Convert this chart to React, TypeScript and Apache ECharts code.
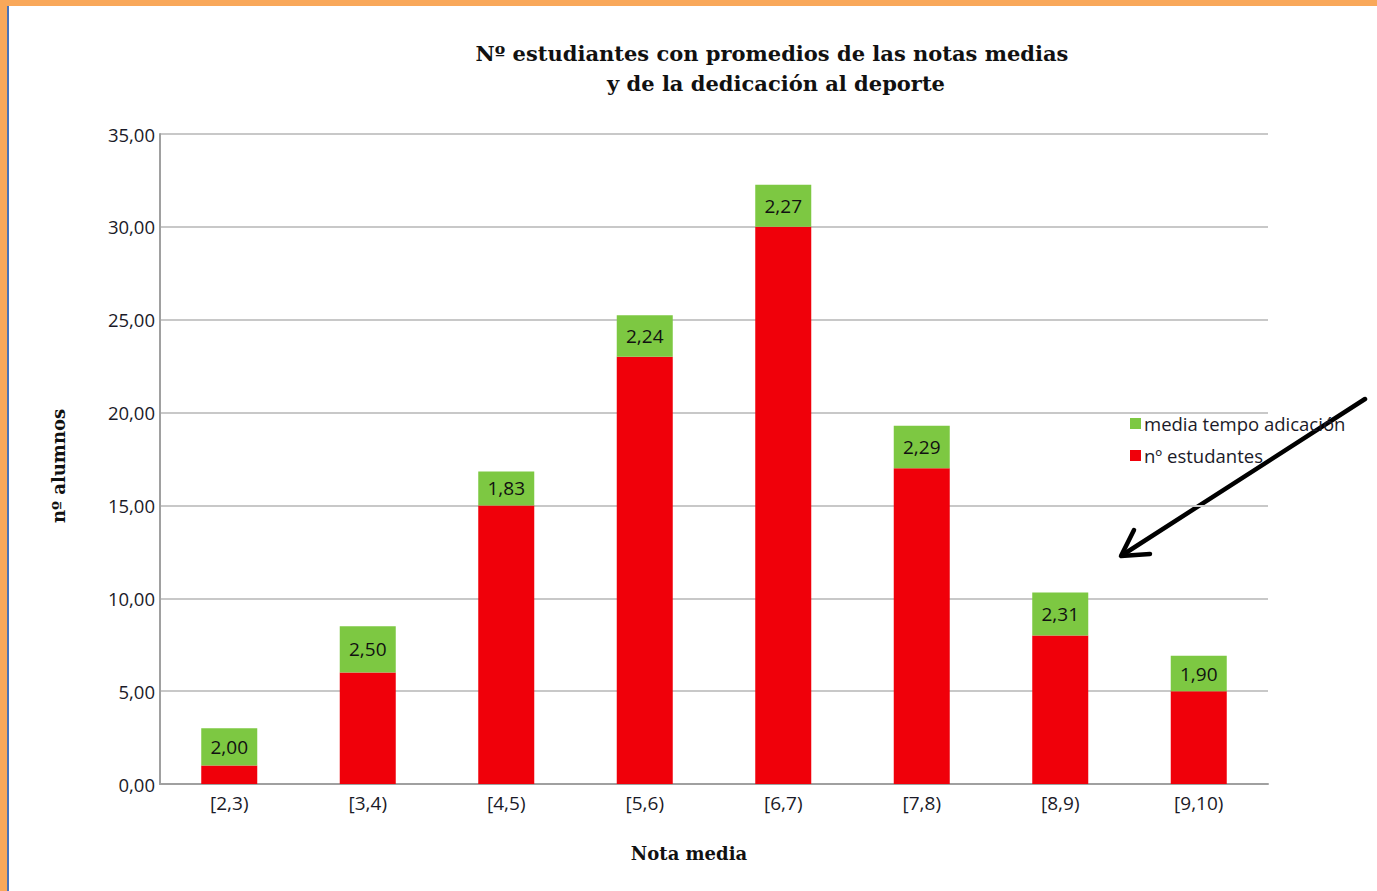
import React, { useEffect, useRef } from "react";
import * as echarts from "echarts";

const categories = ["[2,3)", "[3,4)", "[4,5)", "[5,6)", "[6,7)", "[7,8)", "[8,9)", "[9,10)"];
const estudiantes = [1, 6, 15, 23, 30, 17, 8, 5];
const mediaTempo = [2.0, 2.5, 1.83, 2.24, 2.27, 2.29, 2.31, 1.9];
const yTicks = { min: 0, max: 35, interval: 5 };

const fmt = (v: number) => v.toFixed(2).replace(".", ",");

export default function App() {
  const ref = useRef<HTMLDivElement>(null);
  useEffect(() => {
    const chart = echarts.init(ref.current!, null, { renderer: "svg" });
    const sans = "'Open Sans', 'Liberation Sans', sans-serif";
    const serif = "'DejaVu Serif', 'Liberation Serif', serif";
    const txt = "#1a1a28";
    chart.setOption({
      animation: false,
      backgroundColor: "#ffffff",
      grid: { left: 160, top: 134, width: 1108, height: 650, containLabel: false },
      legend: {
        orient: "vertical",
        left: 1125,
        top: 409,
        itemWidth: 11,
        itemHeight: 11,
        itemGap: 13,
        icon: "rect",
        data: ["media tempo adicación", "nº estudantes"],
        textStyle: { fontFamily: sans, fontSize: 18.5, color: txt, padding: [0, 0, 0, -2] },
      },
      xAxis: {
        type: "category",
        data: categories,
        axisLine: { lineStyle: { color: "#a0a0a0", width: 2 } },
        axisTick: { show: false },
        axisLabel: { fontFamily: sans, fontSize: 19, color: txt, margin: 9 },
      },
      yAxis: {
        type: "value",
        min: yTicks.min,
        max: yTicks.max,
        interval: yTicks.interval,
        axisLine: { show: true, lineStyle: { color: "#a0a0a0", width: 2 } },
        axisTick: { show: false },
        axisLabel: { fontFamily: sans, fontSize: 18.5, color: txt, margin: 5, formatter: (v: number) => fmt(v) },
        splitLine: { lineStyle: { color: "#c8c8c8", width: 2 } },
      },
      series: [
        {
          name: "nº estudantes",
          type: "bar",
          stack: "s",
          data: estudiantes,
          barWidth: 56,
          itemStyle: { color: "#f0000a" },
        },
        {
          name: "media tempo adicación",
          type: "bar",
          stack: "s",
          data: mediaTempo,
          barWidth: 56,
          itemStyle: { color: "#7dc842" },
          label: {
            show: true,
            position: "inside",
            formatter: (p: any) => fmt(p.value),
            fontFamily: sans,
            fontSize: 19,
            color: "#111",
          },
        },
      ],
      graphic: [
        { type: "rect", shape: { x: 0, y: 0, width: 1377, height: 6 }, style: { fill: "#f9a85a" } },
        { type: "rect", shape: { x: 0, y: 0, width: 7, height: 891 }, style: { fill: "#f9a85a" } },
        { type: "rect", shape: { x: 7, y: 6, width: 2, height: 885 }, style: { fill: "#4a72b8" } },
        {
          type: "text",
          x: 772,
          y: 53,
          style: {
            text: "Nº estudiantes con promedios de las notas medias",
            font: "bold 21px " + serif,
            fill: "#111",
            align: "center",
            verticalAlign: "middle",
          },
        },
        {
          type: "text",
          x: 776,
          y: 83,
          style: {
            text: "y de la dedicación al deporte",
            font: "bold 21px " + serif,
            fill: "#111",
            align: "center",
            verticalAlign: "middle",
          },
        },
        {
          type: "text",
          x: 689,
          y: 853,
          style: { text: "Nota media", font: "bold 18px " + serif, fill: "#111", align: "center", verticalAlign: "middle" },
        },
        {
          type: "text",
          x: 58,
          y: 466,
          rotation: Math.PI / 2,
          style: { text: "nº alumnos", font: "bold 18px " + serif, fill: "#111", align: "center", verticalAlign: "middle" },
        },
        {
          type: "line",
          shape: { x1: 1365, y1: 399, x2: 1124, y2: 554 },
          style: { stroke: "#000", lineWidth: 4.5, lineCap: "round" },
        },
        {
          type: "polyline",
          shape: { points: [[1134, 530], [1121, 556], [1150, 554]] },
          style: { stroke: "#000", lineWidth: 4.5, fill: null, lineCap: "round", lineJoin: "round" },
        },
      ],
    });
    return () => chart.dispose();
  }, []);
  return <div ref={ref} style={{ position: "absolute", left: 0, top: 0, width: 1377, height: 891 }} />;
}
